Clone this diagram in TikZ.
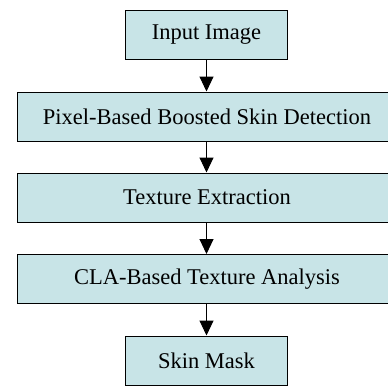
\documentclass[tikz,border=0pt]{standalone}
\usepackage{fontspec}
\setmainfont{Liberation Serif}
\usetikzlibrary{arrows.meta}
\definecolor{boxfill}{RGB}{200,228,231}
\begin{document}
\begin{tikzpicture}[x=1pt,y=-1pt,
  stagebox/.style={draw=black, fill=boxfill, line width=1pt, inner sep=0pt,
    minimum height=49pt, font=\fontsize{22.5}{26}\selectfont},
  shortbox/.style={stagebox, minimum width=162pt},
  widebox/.style={stagebox, minimum width=380pt},
  flow/.style={line width=1pt, -{Triangle[length=15pt,width=14pt]}}]
\useasboundingbox (0,0) rectangle (388,386);
\node[shortbox] (in) at (206.5,35) {Input Image};
\node[widebox] (pix) at (207,116.5) {Pixel-Based Boosted Skin Detection};
\node[widebox] (tex) at (207,197.5) {Texture Extraction};
\node[widebox] (cla) at (207,279) {CLA-Based Texture Analysis};
\node[shortbox] (mask) at (206.5,360.5) {Skin Mask};
\draw[flow] (in.south) -- (pix.north -| in.south);
\draw[flow] (pix.south -| in.south) -- (tex.north -| in.south);
\draw[flow] (tex.south -| in.south) -- (cla.north -| in.south);
\draw[flow] (cla.south -| in.south) -- (mask.north);
\end{tikzpicture}
\end{document}
